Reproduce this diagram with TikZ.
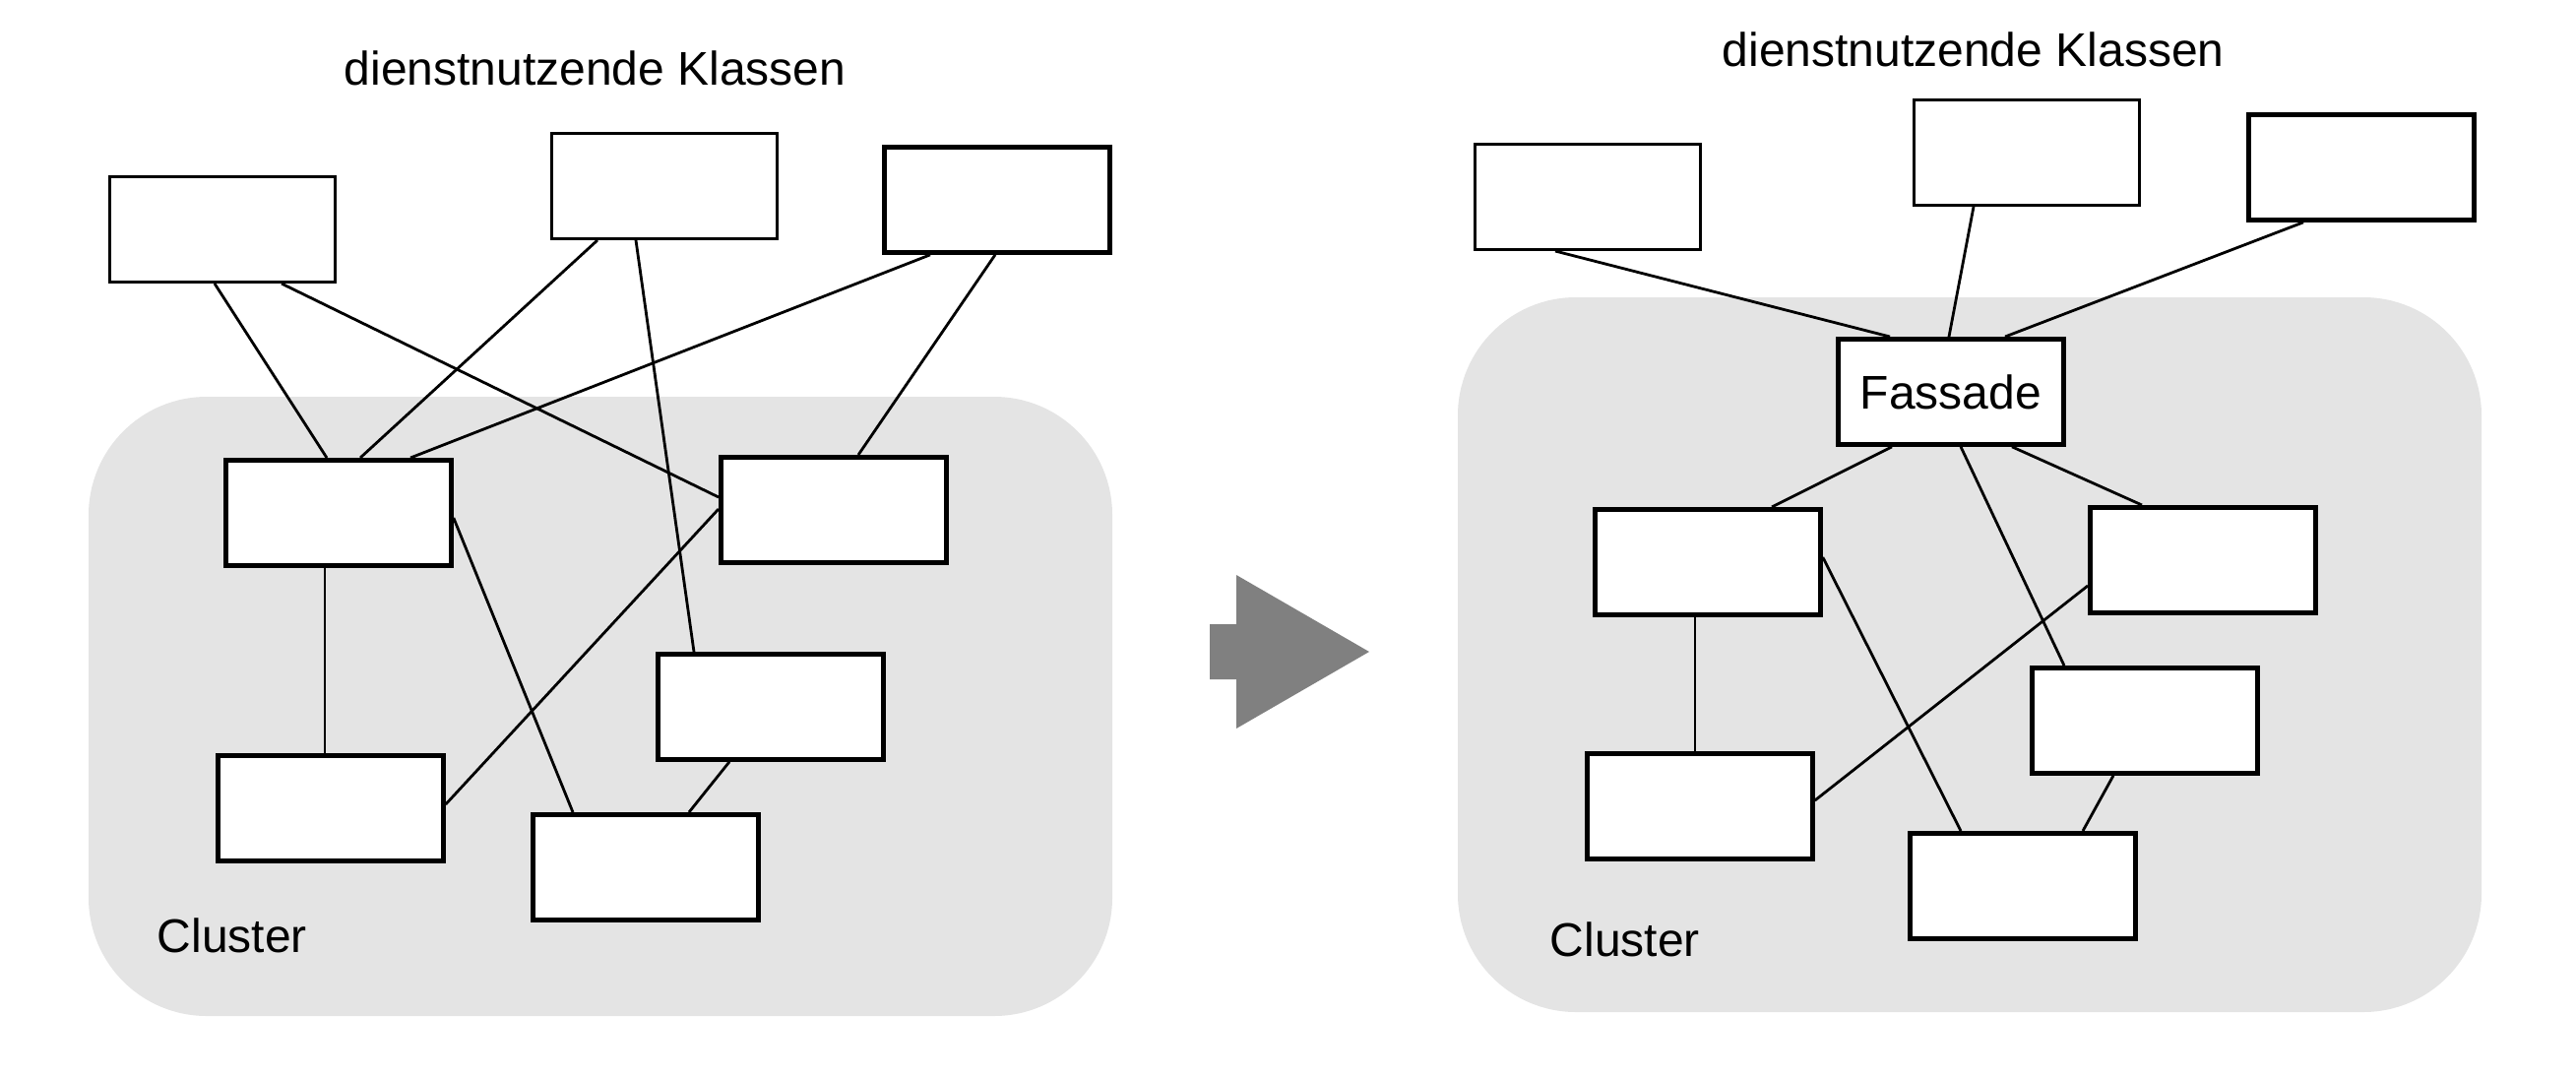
\documentclass[tikz,border=0pt]{standalone}
\usepackage{fontspec}
\setmainfont{Liberation Sans}
\usetikzlibrary{calc}
\definecolor{clusterbg}{HTML}{E4E4E4}
\definecolor{arrowgray}{HTML}{808080}
\begin{document}
\begin{tikzpicture}[x=0.25pt,y=-0.25pt,
  box/.style={draw=black,fill=white,line width=0.75pt,minimum width=57.25pt,minimum height=26.75pt,inner sep=0pt,anchor=north west},
  thickbox/.style={box,line width=1.2pt},
  conn/.style={draw=black,line width=0.7pt},
  lbl/.style={inner sep=0pt,anchor=base west,font=\fontsize{12pt}{14pt}\selectfont},
  cluster/.style={fill=clusterbg,rounded corners=30pt}]
\useasboundingbox (0,0) rectangle (2617,1095);
% clusters
\fill[cluster] (90,403) rectangle (1130,1032);
\fill[cluster] (1481,302) rectangle (2521,1028);
% arrow
\fill[arrowgray] (1229,634) -- (1256,634) -- (1256,584) -- (1391,662) -- (1256,740) -- (1256,690) -- (1229,690) -- cycle;
% texts
\node[lbl] (t1) at (349,86) {dienstnutzende Klassen};
\node[lbl] (t2) at (1749,67) {dienstnutzende Klassen};
\node[lbl] (cl1) at (159,967) {Cluster};
\node[lbl] (cl2) at (1574,971) {Cluster};
% left boxes
\node[box] (tl1) at (110,178) {};
\node[box] (tl2) at (559,134) {};
\node[thickbox] (tl3) at (896,147) {};
\node[thickbox] (c1) at (227,465) {};
\node[thickbox] (c2) at (730,462) {};
\node[thickbox] (c3) at (666,662) {};
\node[thickbox] (c4) at (219,765) {};
\node[thickbox] (c5) at (539,825) {};
% left connectors
\draw[conn] ($(tl1.south west)+(108,0)$) -- ($(c1.north west)+(105,0)$);
\draw[conn] ($(tl1.south west)+(176,0)$) -- ($(c2.north west)+(0,43)$);
\draw[conn] ($(tl2.south west)+(48,0)$) -- ($(c1.north west)+(139,0)$);
\draw[conn] ($(tl2.south west)+(87,0)$) -- ($(c3.north west)+(39,0)$);
\draw[conn] ($(tl3.south west)+(49,0)$) -- ($(c1.north west)+(190,0)$);
\draw[conn] ($(tl3.south west)+(115,0)$) -- ($(c2.north west)+(142,0)$);
\draw[conn] ($(c1.south west)+(103,0)$) -- ($(c4.north west)+(111,0)$);
\draw[conn] ($(c1.north east)+(0,61)$) -- ($(c5.north west)+(43,0)$);
\draw[conn] ($(c2.north west)+(0,55)$) -- ($(c4.north east)+(0,52)$);
\draw[conn] ($(c3.south west)+(75,0)$) -- ($(c5.north west)+(161,0)$);
% right boxes
\node[box] (rt1) at (1497,145) {};
\node[box] (rt2) at (1943,100) {};
\node[thickbox] (rt3) at (2282,114) {};
\node[thickbox,font=\fontsize{12pt}{14pt}\selectfont] (fas) at (1865,342) {Fassade};
\node[thickbox] (r1) at (1618,515) {};
\node[thickbox] (r2) at (2121,513) {};
\node[thickbox] (r3) at (2062,676) {};
\node[thickbox] (r4) at (1610,763) {};
\node[thickbox] (r5) at (1938,844) {};
% right connectors
\draw[conn] ($(rt1.south west)+(83,0)$) -- ($(fas.north west)+(55,0)$);
\draw[conn] ($(rt2.south west)+(62,0)$) -- ($(fas.north west)+(115,0)$);
\draw[conn] ($(rt3.south west)+(58,0)$) -- ($(fas.north west)+(172,0)$);
\draw[conn] ($(fas.south west)+(57,0)$) -- ($(r1.north west)+(182,0)$);
\draw[conn] ($(fas.south west)+(179,0)$) -- ($(r2.north west)+(55,0)$);
\draw[conn] ($(fas.south west)+(127,0)$) -- ($(r3.north west)+(35,0)$);
\draw[conn] ($(r1.south west)+(104,0)$) -- ($(r4.north west)+(112,0)$);
\draw[conn] ($(r1.north east)+(0,51)$) -- ($(r5.north west)+(54,0)$);
\draw[conn] ($(r2.north west)+(0,82)$) -- ($(r4.north east)+(0,50)$);
\draw[conn] ($(r3.south west)+(85,0)$) -- ($(r5.north west)+(178,0)$);
\end{tikzpicture}
\end{document}
